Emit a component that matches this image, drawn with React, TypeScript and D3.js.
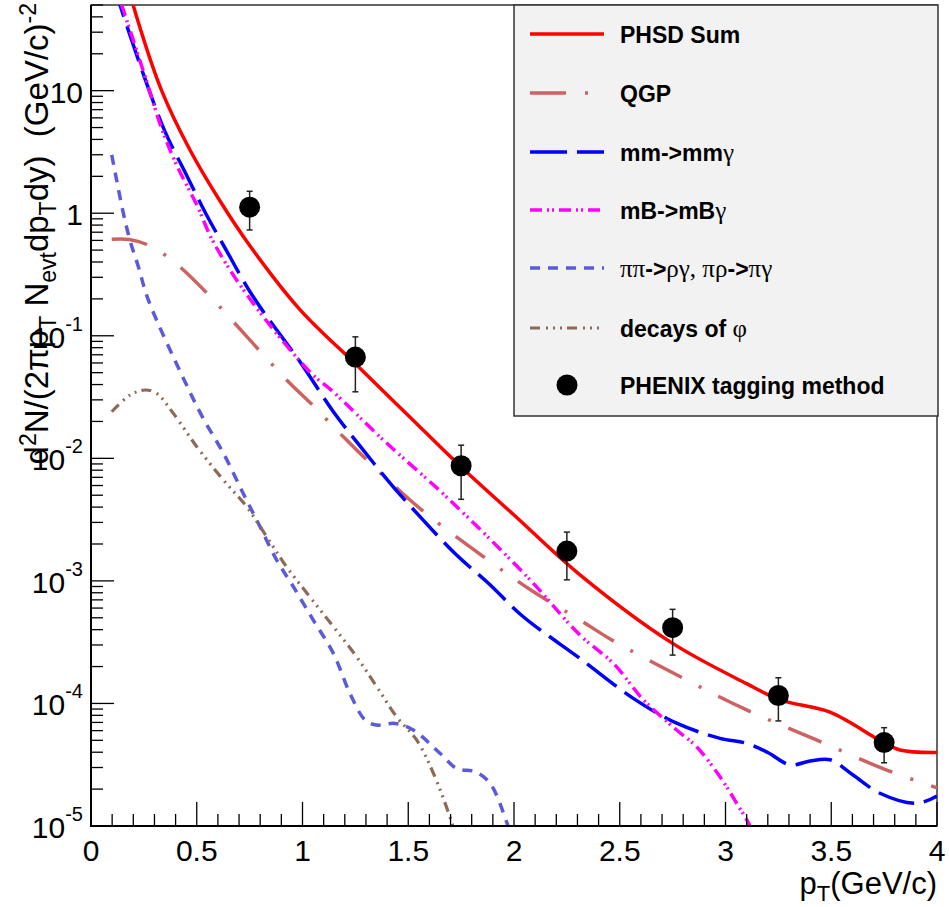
import React from "react";
import * as d3 from "d3";

// ---------- data ----------
const sumPt = [0.1, 0.199, 0.334, 0.468, 0.61, 0.752, 0.99, 1.25, 1.5, 1.75, 2.0, 2.312, 2.75, 3.1, 3.257, 3.494, 3.73, 3.825, 4.0];
const sumVal = [224, 50, 10.0, 3.28, 1.257, 0.54, 0.162, 0.059, 0.0224, 0.0085, 0.00345, 0.00112, 3.09e-4, 1.45e-4, 1.07e-4, 8.5e-5, 5.0e-5, 4.17e-5, 3.98e-5];

const qgpPt = [0.098, 0.18, 0.271, 0.35, 0.42, 0.547, 0.925, 1.043, 1.177, 1.296, 1.563, 1.855, 2.076, 2.312, 2.462, 2.787, 3.1, 3.43, 3.762, 4.0];
const qgpVal = [0.612, 0.61, 0.55, 0.456, 0.366, 0.224, 0.0436, 0.0277, 0.016, 0.01, 0.0038, 0.00158, 8.5e-4, 4.8e-4, 3.3e-4, 1.65e-4, 8.85e-5, 5.04e-5, 2.86e-5, 2.05e-5];

const mmPt = [0.1, 0.137, 0.2, 0.271, 0.35, 0.452, 0.547, 0.626, 0.767, 0.988, 1.146, 1.28, 1.422, 1.563, 1.721, 1.879, 2.044, 2.312, 2.564, 2.769, 2.974, 3.1, 3.2, 3.305, 3.4, 3.494, 3.6, 3.73, 3.904, 4.0];
const mmVal = [77.6, 50, 23.6, 10.5, 4.63, 2.04, 0.962, 0.55, 0.208, 0.0614, 0.024, 0.0121, 0.00605, 0.00324, 0.00167, 9.55e-4, 5.1e-4, 2.33e-4, 1.1e-4, 6.9e-5, 5.19e-5, 4.73e-5, 3.98e-5, 3.15e-5, 3.39e-5, 3.47e-5, 2.63e-5, 1.85e-5, 1.53e-5, 1.76e-5];

const mbPt = [0.1, 0.145, 0.192, 0.263, 0.334, 0.405, 0.5, 0.578, 0.744, 1.035, 1.146, 1.382, 1.681, 2.076, 2.312, 2.47, 2.612, 2.769, 2.863, 2.974, 3.053, 3.116, 3.15];
const mbVal = [85, 50, 28.4, 11.9, 4.92, 2.47, 1.17, 0.585, 0.208, 0.0507, 0.0348, 0.0141, 0.00484, 0.00102, 3.61e-4, 2.12e-4, 1.07e-4, 6.07e-5, 4.44e-5, 2.52e-5, 1.53e-5, 9.9e-6, 6.3e-6];

const pipiPt = [0.098, 0.121, 0.153, 0.184, 0.224, 0.271, 0.452, 0.531, 0.626, 0.72, 0.8, 0.878, 0.957, 1.051, 1.146, 1.225, 1.296, 1.351, 1.437, 1.524, 1.65, 1.729, 1.816, 1.887, 1.965, 1.99];
const pipiVal = [2.99, 1.87, 1.0, 0.604, 0.366, 0.196, 0.0396, 0.0211, 0.011, 0.00516, 0.00275, 0.00148, 8.95e-4, 4.79e-4, 2.56e-4, 1.2e-4, 7.33e-5, 6.67e-5, 6.87e-5, 6.07e-5, 3.92e-5, 2.95e-5, 2.77e-5, 2.23e-5, 1.08e-5, 7.9e-6];

const phiPt = [0.098, 0.184, 0.255, 0.31, 0.389, 0.5, 0.626, 0.736, 0.831, 0.925, 1.035, 1.146, 1.256, 1.351, 1.445, 1.54, 1.619, 1.697, 1.72];
const phiVal = [0.024, 0.0328, 0.0361, 0.0339, 0.0233, 0.01245, 0.00665, 0.00403, 0.00229, 0.0013, 7.41e-4, 4.23e-4, 2.4e-4, 1.37e-4, 7.78e-5, 5.02e-5, 2.69e-5, 1.19e-5, 8.9e-6];

const dataPt = [0.75, 1.25, 1.75, 2.25, 2.75, 3.25, 3.75];
const dataVal = [1.12, 0.067, 0.0087, 0.00175, 4.15e-4, 1.16e-4, 4.79e-5];
const dataHi = [1.51, 0.098, 0.0128, 0.0025, 5.86e-4, 1.62e-4, 6.34e-5];
const dataLo = [0.73, 0.0349, 0.00463, 0.00102, 2.48e-4, 7.2e-5, 3.28e-5];

const xTickLabels = ["0", "0.5", "1", "1.5", "2", "2.5", "3", "3.5", "4"];
const yDecades = [-5, -4, -3, -2, -1, 0, 1];

// ---------- layout ----------
const W = 949, H = 907;
const L = 91, R = 937, T = 5, B = 826;
const x = d3.scaleLinear().domain([0, 4]).range([L, R]);
const y = d3.scaleLog().domain([1e-5, 50]).range([B, T]);
const FONT = "'Liberation Sans', Arial, Helvetica, sans-serif";
const GREEK = "'Liberation Serif', 'DejaVu Serif', serif";

const series = [
  { name: "PHSD Sum", pt: sumPt, val: sumVal, color: "#ff0000", dash: "none", w: 3.5 },
  { name: "QGP", pt: qgpPt, val: qgpVal, color: "#cd6262", dash: "36,19,3,19", w: 3.5 },
  { name: "mm", pt: mmPt, val: mmVal, color: "#0000ff", dash: "37,10", w: 3.5 },
  { name: "mB", pt: mbPt, val: mbVal, color: "#ff00ff", dash: "12,5,2,3,2,5", w: 3.5 },
  { name: "pipi", pt: pipiPt, val: pipiVal, color: "#5b5bd9", dash: "10,8", w: 3.5 },
  { name: "phi", pt: phiPt, val: phiVal, color: "#8c6a5a", dash: "10,6,2,5,2,5,2,5", w: 3.2 },
];

const line = d3
  .line<[number, number]>()
  .x((d) => x(d[0]))
  .y((d) => y(d[1]))
  .curve(d3.curveCatmullRom.alpha(0.5));

function LegendLabel({ idx }: { idx: number }) {
  const g = { fontFamily: GREEK, fontWeight: "normal" as const, fontSize: 25 };
  switch (idx) {
    case 0: return <>PHSD Sum</>;
    case 1: return <>QGP</>;
    case 2: return <>mm-&gt;mm<tspan {...g}>γ</tspan></>;
    case 3: return <>mB-&gt;mB<tspan {...g}>γ</tspan></>;
    case 4:
      return (
        <>
          <tspan {...g}>ππ</tspan>-&gt;<tspan {...g}>ργ, πρ</tspan>-&gt;<tspan {...g}>πγ</tspan>
        </>
      );
    case 5: return <>decays of <tspan {...g}>φ</tspan></>;
    default: return <>PHENIX tagging method</>;
  }
}

export default function App() {
  const xMinor = d3.range(0, 41).map((i) => i / 10);
  const yMinor: number[] = [];
  for (const d of yDecades) {
    for (let k = 2; k <= 9; k++) {
      const v = k * Math.pow(10, d);
      if (v <= 50) yMinor.push(v);
    }
  }
  const legendRows = [34, 93, 152, 210, 268, 328, 385];

  return (
    <svg
      width={W}
      height={H}
      style={{ position: "absolute", left: 0, top: 0, background: "#fff" }}
      fontFamily={FONT}
    >
      <rect x={0} y={0} width={W} height={H} fill="#fff" />
      <defs>
        <clipPath id="plotclip">
          <rect x={L} y={T} width={R - L} height={B - T} />
        </clipPath>
      </defs>

      {/* frame */}
      <rect x={L} y={T} width={R - L} height={B - T} fill="none" stroke="#000" strokeWidth={1.2} />

      {/* curves */}
      <g clipPath="url(#plotclip)">
        {series.map((s) => (
          <path
            key={s.name}
            d={line(s.pt.map((p, i) => [p, s.val[i]] as [number, number])) || ""}
            fill="none"
            stroke={s.color}
            strokeWidth={s.w}
            strokeDasharray={s.dash}
          />
        ))}
        {/* data points */}
        {dataPt.map((p, i) => (
          <g key={"pt" + i}>
            <line x1={x(p)} x2={x(p)} y1={y(dataHi[i])} y2={y(dataLo[i])} stroke="#222" strokeWidth={1.5} />
            <line x1={x(p) - 3} x2={x(p) + 3} y1={y(dataHi[i])} y2={y(dataHi[i])} stroke="#222" strokeWidth={1.5} />
            <line x1={x(p) - 3} x2={x(p) + 3} y1={y(dataLo[i])} y2={y(dataLo[i])} stroke="#222" strokeWidth={1.5} />
            <circle cx={x(p)} cy={y(dataVal[i])} r={10.5} fill="#000" />
          </g>
        ))}
      </g>

      {/* axes */}
      <line x1={L} x2={L} y1={T} y2={B + 1} stroke="#000" strokeWidth={2} />
      <line x1={L - 1} x2={R} y1={B} y2={B} stroke="#000" strokeWidth={2} />

      {/* x ticks */}
      {xMinor.map((v, i) => (
        <line
          key={"xt" + i}
          x1={x(v)}
          x2={x(v)}
          y1={B}
          y2={B - (i % 5 === 0 ? 24 : 12)}
          stroke="#000"
          strokeWidth={1.3}
        />
      ))}
      {xTickLabels.map((t, i) => (
        <text key={"xl" + t} x={x(i * 0.5)} y={861} fontSize={30} textAnchor="middle" fill="#000">
          {t}
        </text>
      ))}

      {/* y ticks */}
      {yMinor.map((v, i) => (
        <line key={"ym" + i} x1={L} x2={L + 12} y1={y(v)} y2={y(v)} stroke="#000" strokeWidth={1.3} />
      ))}
      {yDecades.map((d) => (
        <line key={"yM" + d} x1={L} x2={L + 23} y1={y(Math.pow(10, d))} y2={y(Math.pow(10, d))} stroke="#000" strokeWidth={1.3} />
      ))}
      {yDecades.map((d) => (
        <text key={"yl" + d} x={83} y={y(Math.pow(10, d)) + 12} fontSize={30} textAnchor="end" fill="#000">
          {d === 0 ? "1" : d === 1 ? "10" : (
            <>
              10<tspan dy={-17} fontSize={20}>{String(d)}</tspan>
            </>
          )}
        </text>
      ))}

      {/* axis titles */}
      <text
        transform="translate(48,3) rotate(-90)"
        textAnchor="end"
        fontSize={33}
        fill="#000"
        style={{ whiteSpace: "pre" }}
      >
        d<tspan dy={-12} fontSize={23}>2</tspan>
        <tspan dy={12}>N/(2πp</tspan>
        <tspan dy={8} fontSize={23}>T</tspan>
        <tspan dy={-8}> N</tspan>
        <tspan dy={8} fontSize={23}>evt</tspan>
        <tspan dy={-8}>dp</tspan>
        <tspan dy={8} fontSize={23}>T</tspan>
        <tspan dy={-8}>dy)  (GeV/c)</tspan>
        <tspan dy={-12} fontSize={23}>-2</tspan>
      </text>
      <text x={R} y={894} textAnchor="end" fontSize={31} fill="#000">
        p<tspan dy={7} fontSize={22}>T</tspan>
        <tspan dy={-7}>(GeV/c)</tspan>
      </text>

      {/* legend */}
      <rect x={514} y={5} width={424} height={411} fill="#f2f2f2" stroke="#333" strokeWidth={1.5} />
      {legendRows.map((cy, i) => (
        <g key={"lg" + i}>
          {i < 6 ? (
            <line
              x1={530}
              x2={604}
              y1={cy}
              y2={cy}
              stroke={series[i].color}
              strokeWidth={series[i].w}
              strokeDasharray={series[i].dash}
            />
          ) : (
            <circle cx={567} cy={cy} r={10.5} fill="#000" />
          )}
          <text x={620} y={cy + 8.5} fontSize={23} fontWeight="bold" fill="#000" style={{ whiteSpace: "pre" }}>
            <LegendLabel idx={i} />
          </text>
        </g>
      ))}
    </svg>
  );
}
